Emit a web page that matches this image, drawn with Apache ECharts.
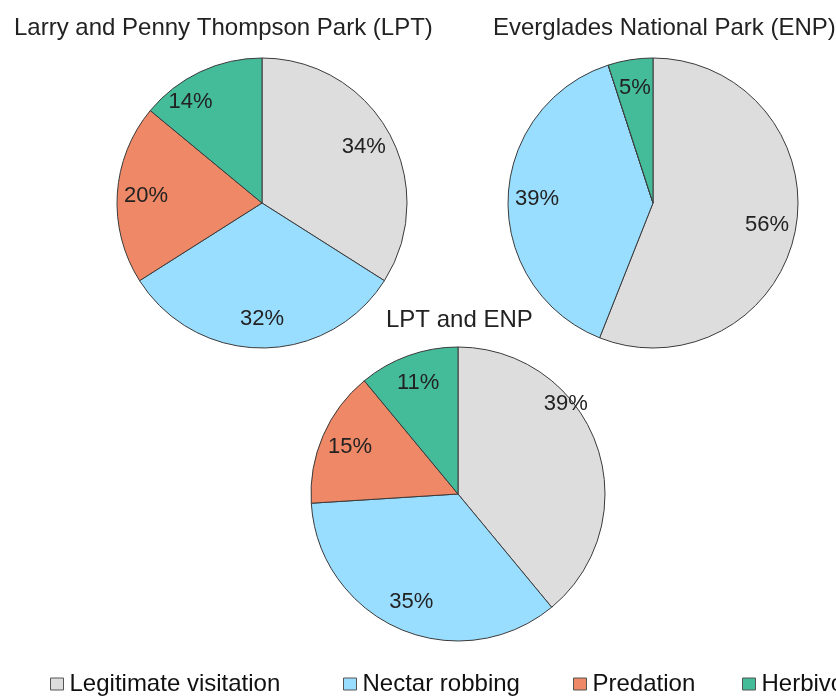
<!DOCTYPE html>
<html>
<head>
<meta charset="utf-8">
<script src="https://cdn.jsdelivr.net/npm/echarts@6/dist/echarts.min.js"></script>
<style>
html, body { margin: 0; padding: 0; background: #fff; }
#chart { width: 836px; height: 697px; }
</style>
</head>
<body>
<div id="chart"></div>
<script>
// categories and shares (%) for each park
var categories = ['Legitimate visitation', 'Nectar robbing', 'Predation', 'Herbivory'];
var colors = ['#dddddd', '#99ddff', '#ee8866', '#44bb99'];
var lptValues = [34, 32, 20, 14];
var enpValues = [56, 39, 0, 5];
var bothValues = [39, 35, 15, 11];
var titles = ['Larry and Penny Thompson Park (LPT)', 'Everglades National Park (ENP)', 'LPT and ENP'];

var FONT = 'Liberation Sans, Arial, sans-serif';

function toData(vals) {
	return categories.map(function(c, i) {
		return { name: c, value: vals[i], itemStyle: { color: colors[i] } };
	});
}

function pieBase(vals, center, r) {
	return {
		type: 'pie',
		center: center,
		radius: [0, r],
		startAngle: 90,
		clockwise: true,
		animation: false,
		label: { show: false },
		labelLine: { show: false },
		itemStyle: { borderColor: '#3a3a3a', borderWidth: 1 },
		emphasis: { disabled: true },
		data: toData(vals)
	};
}

// transparent ring just for the percent labels (puts them at ~0.78 r)
// shift = {dataIndex: [dx, dy]} for labels excel nudged off the slice middle
function pieLabels(vals, center, r, shift) {
	return {
		type: 'pie',
		center: center,
		radius: [r * 0.56, r],
		startAngle: 90,
		clockwise: true,
		animation: false,
		silent: true,
		legendHoverLink: false,
		itemStyle: { color: 'rgba(0,0,0,0)', borderWidth: 0 },
		label: {
			show: true,
			position: 'inside',
			formatter: function(p) { return p.value > 0 ? p.value + '%' : ''; },
			fontFamily: FONT,
			fontSize: 22,
			color: '#222'
		},
		labelLayout: function(p) {
			var s = shift && shift[p.dataIndex];
			return s ? { dx: s[0], dy: s[1] } : {};
		},
		labelLine: { show: false },
		emphasis: { disabled: true },
		data: categories.map(function(c, i) {
			return { name: c + ' ', value: vals[i] };
		})
	};
}

var chart = echarts.init(document.getElementById('chart'));
var titleStyle = { fontFamily: FONT, fontSize: 24, fontWeight: 'normal', color: '#222' };

// one legend per item so the spacing follows the original
var legendLeft = [45, 338, 568, 737];
var legends = categories.map(function(c, i) {
	return {
		data: [c],
		left: legendLeft[i],
		top: 667,
		width: 600,
		itemWidth: 13,
		itemHeight: 12,
		icon: 'rect',
		itemStyle: { borderColor: '#555', borderWidth: 1 },
		textStyle: { fontFamily: FONT, fontSize: 24, color: '#111', padding: [0, 0, 0, 1] }
	};
});

var option = {
	title: [
		{ text: titles[0], left: 9, top: 11, textStyle: titleStyle },
		{ text: titles[1], left: 488, top: 11, textStyle: titleStyle },
		{ text: titles[2], left: 381, top: 303, textStyle: titleStyle }
	],
	legend: legends,
	series: [
		pieBase(lptValues, [262, 203], 145),
		pieBase(enpValues, [653, 203], 145),
		pieBase(bothValues, [458, 494], 147),
		pieLabels(lptValues, [262, 203], 145, { 3: [-22, 4] }),
		pieLabels(enpValues, [653, 203], 145, null),
		pieLabels(bothValues, [458, 494], 147, { 0: [-3, -50] })
	]
};
chart.setOption(option);
</script>
</body>
</html>
